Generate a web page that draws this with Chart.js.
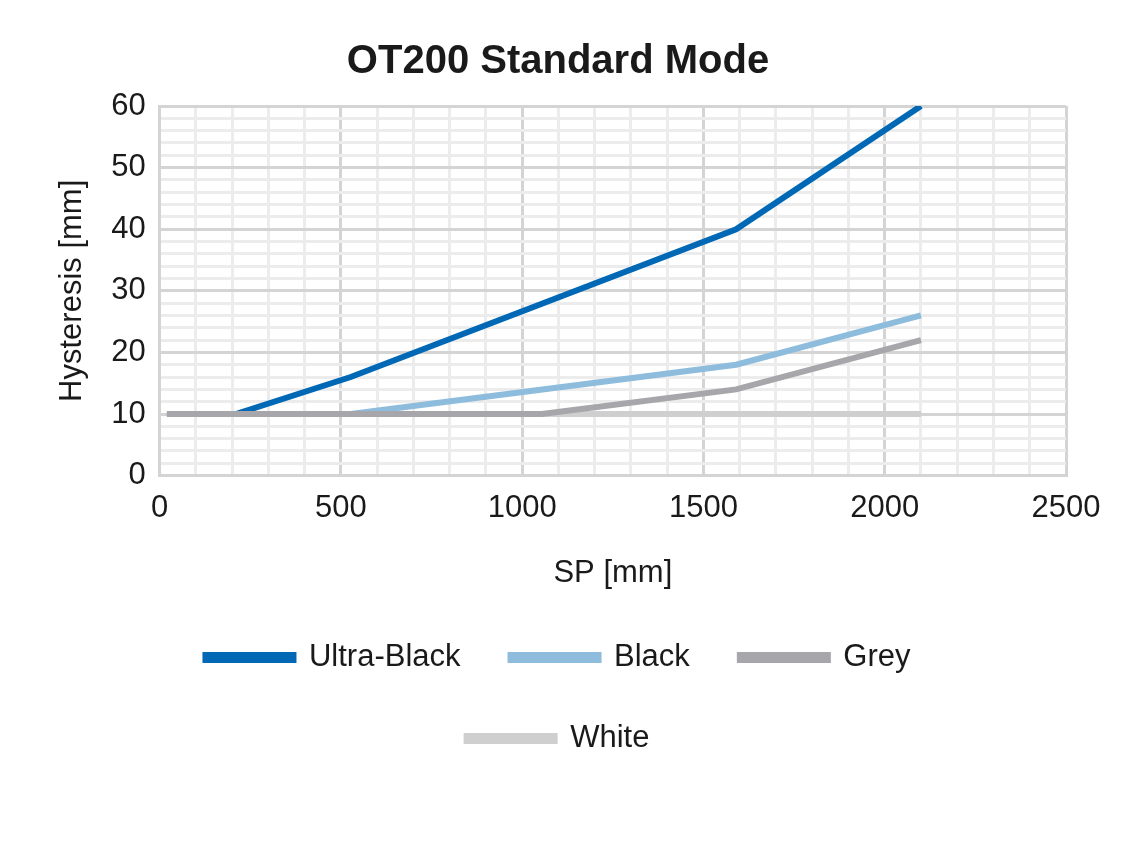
<!DOCTYPE html>
<html><head><meta charset="utf-8">
<script src="https://cdn.jsdelivr.net/npm/chart.js@4"></script>
<style>html,body{margin:0;padding:0;background:#fff}#w{width:1134px;height:864px}</style>
</head><body><div id="w"><canvas id="c"></canvas></div>
<script>
const seriesNames = ["Ultra-Black","Black","Grey","White"];
const ultraBlack = [[20,10],[210,10],[527,16],[1590,40],[2100,60]];
const black = [[20,10],[527,10],[1590,18],[2100,26]];
const grey = [[20,10],[1054,10],[1590,14],[2100,22]];
const white = [[20,10],[2100,10]];
const colors = ["#0068b4","#8dbcdc","#a7a7ab","#cfcfcf"];
const toPts = a => a.map(p => ({x:p[0], y:p[1]}));
const allData = [ultraBlack, black, grey, white];
const font = "Arial, 'Liberation Sans', sans-serif";
new Chart(document.getElementById('c'), {
  type: 'line',
  data: { datasets: allData.map((d,i) => ({
    label: seriesNames[i], data: toPts(d), borderColor: colors[i], backgroundColor: colors[i],
    borderWidth: 6, pointRadius: 0, tension: 0, order: [1,2,0,3][i]
  }))},
  options: {
    responsive: true, maintainAspectRatio: false, animation: false,
    layout: { padding: { left: 50, right: 68, top: 28, bottom: 100 } },
    plugins: {
      title: { display: true, text: 'OT200 Standard Mode', color: '#1a1a1a',
        font: { family: font, size: 40, weight: 'bold' }, padding: { top: 10, bottom: 20 } },
      legend: { position: 'bottom', labels: { color: '#1a1a1a', font: { family: font, size: 31 },
        boxWidth: 88, boxHeight: 5, padding: 50, sort: (a,b)=>a.datasetIndex-b.datasetIndex } },
      tooltip: { enabled: false }
    },
    scales: {
      x: { type: 'linear', min: 0, max: 2500,
        ticks: { stepSize: 100, autoSkip: false, maxRotation: 0, color: '#1a1a1a', font: { family: font, size: 31 }, padding: 14,
          callback: v => v % 500 === 0 ? v : '' },
        grid: { color: c => c.tick.value % 500 === 0 ? '#d4d4d4' : '#ececec', lineWidth: 3, drawTicks: false },
        border: { color: '#d4d4d4', width: 3 },
        title: { display: true, text: 'SP [mm]', color: '#1a1a1a', font: { family: font, size: 31 }, padding: { top: 14, bottom: 0 } }
      },
      y: { min: 0, max: 60,
        ticks: { stepSize: 2, autoSkip: false, color: '#1a1a1a', font: { family: font, size: 31 }, padding: 14,
          callback: v => v % 10 === 0 ? v : '' },
        grid: { color: c => c.tick.value % 10 === 0 ? '#d4d4d4' : '#ececec', lineWidth: 3, drawTicks: false },
        border: { color: '#d4d4d4', width: 3 },
        title: { display: true, text: 'Hysteresis [mm]', color: '#1a1a1a', font: { family: font, size: 31 }, padding: { bottom: 6 } }
      }
    }
  }
});
</script></body></html>
